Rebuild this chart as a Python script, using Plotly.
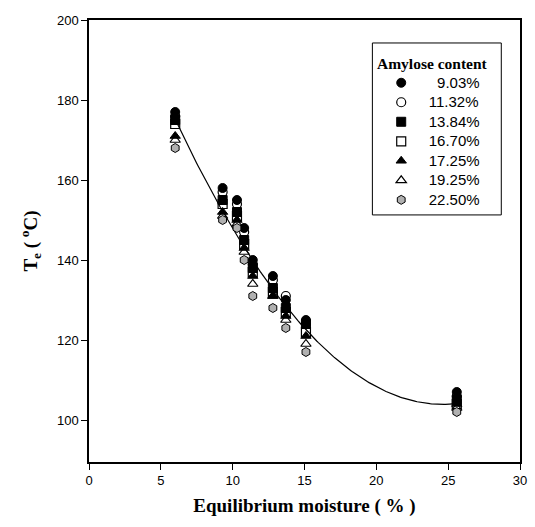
import numpy as np
import plotly.graph_objects as go

moisture = [6.0, 9.3, 10.3, 10.8, 11.4, 12.8, 13.7, 15.1, 25.6]
series_names = ["9.03%", "11.32%", "13.84%", "16.70%", "17.25%", "19.25%", "22.50%"]
te_903 = [177, 158, 155, 148, 140, 136, 130, 125, 107]
te_1132 = [176, 157, 154, 147, 139, 135, 131, 124, 106]
te_1384 = [175, 155, 152, 145, 138, 133, 128, 124, 105]
te_1670 = [174, 154, 151, 144, 137, 132, 127, 122, 104]
te_1725 = [171, 152, 150, 143, 136, 131, 126, 121, 104]
te_1925 = [170, 151, 149, 142, 134, 131, 125, 119, 103]
te_2250 = [168, 150, 148, 140, 131, 128, 123, 117, 102]
series_values = [te_903, te_1132, te_1384, te_1670, te_1725, te_1925, te_2250]

styles = [
    dict(symbol="circle", color="black", line=dict(color="black", width=1)),
    dict(symbol="circle-open", color="black", line=dict(color="black", width=1.2)),
    dict(symbol="square", color="black", line=dict(color="black", width=1)),
    dict(symbol="square-open", color="black", line=dict(color="black", width=1.2)),
    dict(symbol="triangle-up", color="black", line=dict(color="black", width=1)),
    dict(symbol="triangle-up-open", color="black", line=dict(color="black", width=1.2)),
    dict(symbol="hexagon", color="#b0b0b0", line=dict(color="black", width=1)),
]

fig = go.Figure()

# quadratic fit curve
all_x = np.concatenate([moisture] * len(series_values))
all_y = np.concatenate(series_values)
coef = np.polyfit(all_x, all_y, 2)
xf = np.linspace(min(moisture), max(moisture), 200)
fig.add_trace(go.Scatter(x=xf, y=np.polyval(coef, xf), mode="lines",
                         line=dict(color="black", width=1.2), showlegend=False,
                         hoverinfo="skip"))

for name, vals, st in zip(series_names, series_values, styles):
    pad = "\u2002" + ("\u2007" if len(name) < 6 else "")
    fig.add_trace(go.Scatter(
        x=moisture, y=vals, mode="markers",
        name='<span style="font-size:15px">' + pad + name + "</span>",
        marker=dict(size=9, symbol=st["symbol"], color=st["color"], line=st["line"]),
    ))

# legend frame and title
fig.add_shape(type="rect", xref="paper", yref="paper",
              x0=0.6575, x1=0.9566, y0=0.559, y1=0.948,
              line=dict(color="black", width=1), fillcolor="rgba(0,0,0,0)", layer="below")
fig.add_annotation(text="<b>Amylose content</b>", xref="paper", yref="paper",
                   x=0.7968, y=0.9027, xanchor="center", yanchor="middle", showarrow=False,
                   font=dict(family="Times New Roman, Liberation Serif, serif", size=15.5, color="black"))

fig.update_layout(
    width=535, height=527,
    margin=dict(l=89, r=8, t=20, b=65),
    paper_bgcolor="white", plot_bgcolor="white",
    font=dict(family="Arial, Liberation Sans, sans-serif", size=13, color="black"),
    legend=dict(
        x=0.678, y=0.8914, xanchor="left", yanchor="top",
        bgcolor="rgba(0,0,0,0)", borderwidth=0,
        font=dict(family="Arial, Liberation Sans, sans-serif", size=12.7),
        tracegroupgap=0, itemwidth=30,
    ),
    xaxis=dict(
        range=[0, 30], tickmode="linear", tick0=0, dtick=5,
        showline=True, linecolor="black", linewidth=1.5, mirror=True,
        ticks="outside", ticklen=6, tickcolor="black", showgrid=False, zeroline=False,
        tickfont=dict(size=13),
        title=dict(text="<b>Equilibrium moisture ( % )</b>",
                   font=dict(family="Times New Roman, Liberation Serif, serif", size=19),
                   standoff=11),
    ),
    yaxis=dict(
        range=[89.5, 200], tickmode="linear", tick0=100, dtick=20,
        showline=True, linecolor="black", linewidth=1.5, mirror=True,
        ticks="outside", ticklen=6, tickcolor="black", showgrid=False, zeroline=False,
        tickfont=dict(size=13),
        title=dict(text="<b>T<sub>e</sub> ( <sup>o</sup>C)</b>",
                   font=dict(family="Times New Roman, Liberation Serif, serif", size=19),
                   standoff=14),
    ),
)

fig.write_html("out.html")
